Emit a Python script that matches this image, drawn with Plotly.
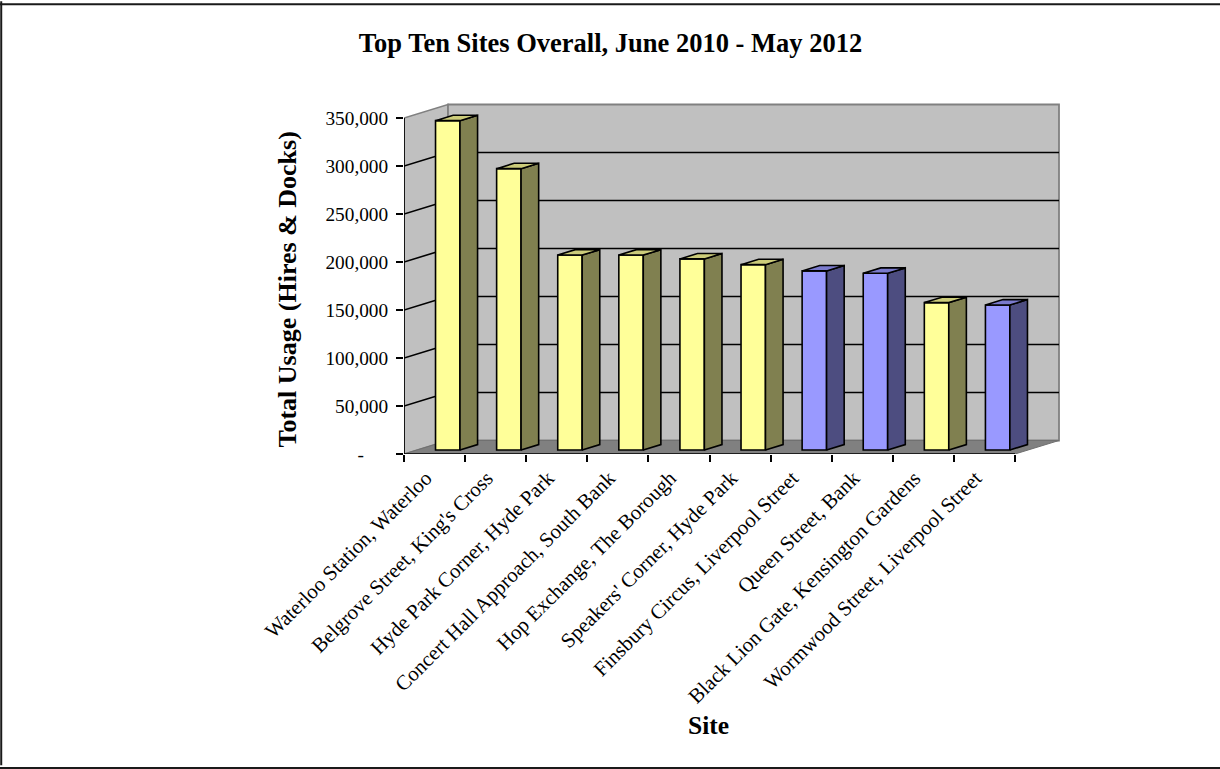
import plotly.graph_objects as go

sites = ["Waterloo Station, Waterloo", "Belgrove Street, King's Cross", "Hyde Park Corner, Hyde Park",
         "Concert Hall Approach, South Bank", "Hop Exchange, The Borough", "Speakers' Corner, Hyde Park",
         "Finsbury Circus, Liverpool Street", "Queen Street, Bank", "Black Lion Gate, Kensington Gardens",
         "Wormwood Street, Liverpool Street"]
usage = [343000, 293000, 203000, 203000, 199000, 193000, 186500, 184000, 153500, 151000]
front_colors = ["#FFFF99"] * 6 + ["#9999FF"] * 2 + ["#FFFF99", "#9999FF"]
side_colors = ["#808050"] * 6 + ["#4D4D80"] * 2 + ["#808050", "#4D4D80"]
top_colors = ["#CCCC7A"] * 6 + ["#7A7ACC"] * 2 + ["#CCCC7A", "#7A7ACC"]
y_ticks = [0, 50000, 100000, 150000, 200000, 250000, 300000, 350000]
y_labels = ["-\u00a0\u00a0\u00a0\u00a0\u00a0", "50,000", "100,000", "150,000", "200,000", "250,000", "300,000", "350,000"]

W, H = 1220, 769
X0, Y0 = 404, 454          # front-left corner of the floor, pixels
SLOT_PX = 61.1             # width of one category slot
UNIT_PX = 48 / 50000       # pixels per unit of usage
DX = 44 / SLOT_PX          # oblique depth in slots
DY = 13.5 / UNIT_PX        # oblique depth in usage units
BAR_W = 0.4
PAD = 4                    # room past the walls so their edge lines stay whole
N = len(sites)
YMAX = y_ticks[-1]
FONT = "Liberation Serif"
EDGE = 1.6                 # outline width of columns and gridlines
LABEL_SHIFT = 0.145        # rotated category labels end slightly left of the slot centre

x_end = N + DX + PAD / SLOT_PX
y_end = YMAX + DY + PAD / UNIT_PX
x_dom = [X0 / W, (X0 + x_end * SLOT_PX) / W]
y_dom = [1 - Y0 / H, 1 - (Y0 - y_end * UNIT_PX) / H]


def poly(points, fill, line, width=1):
    path = "M" + " L".join(f"{x},{y}" for x, y in points) + " Z"
    return dict(type="path", path=path, xref="x", yref="y", layer="below",
                fillcolor=fill, line=dict(color=line, width=width))


def seg(x0, y0, x1, y1, color="#000000", width=EDGE):
    return dict(type="line", xref="x", yref="y", layer="below", x0=x0, y0=y0, x1=x1, y1=y1,
                line=dict(color=color, width=width))


shapes = [
    poly([(0, 0), (DX, DY), (DX, YMAX + DY), (0, YMAX)], "#C0C0C0", "#808080", 1.5),
    poly([(DX, DY), (N + DX, DY), (N + DX, YMAX + DY), (DX, YMAX + DY)], "#C0C0C0", "#808080", 1.8),
    poly([(0, 0), (N, 0), (N + DX, DY), (DX, DY)], "#808080", "#707070"),
]
for v in y_ticks[1:-1]:
    shapes.append(seg(0, v, DX, v + DY))
    shapes.append(seg(DX, v + DY, N + DX, v + DY))

fig = go.Figure()

# Front faces of the columns stand part-way into the floor depth
fig.add_trace(go.Bar(
    x=[i + 0.5 + 0.3 * DX for i in range(N)], y=usage, base=[0.3 * DY] * N, width=BAR_W,
    marker=dict(color=front_colors, line=dict(color="#000000", width=EDGE)),
    hovertext=sites, showlegend=False,
))

# Side and top faces share the column values
for i, v in enumerate(usage):
    left = i + 0.5 + 0.3 * DX - BAR_W / 2
    right = left + BAR_W
    near, far = 0.3 * DY, 0.7 * DY
    shift = 0.4 * DX
    fig.add_trace(go.Scatter(
        x=[right, right + shift, right + shift, right, right],
        y=[near, far, v + far, v + near, near],
        mode="lines", fill="toself", fillcolor=side_colors[i],
        line=dict(color="#000000", width=EDGE), showlegend=False, hoverinfo="skip", cliponaxis=False,
    ))
    fig.add_trace(go.Scatter(
        x=[left, right, right + shift, left + shift, left],
        y=[v + near, v + near, v + far, v + far, v + near],
        mode="lines", fill="toself", fillcolor=top_colors[i],
        line=dict(color="#000000", width=EDGE), showlegend=False, hoverinfo="skip", cliponaxis=False,
    ))

# Front edges of the value and category axes
fig.add_trace(go.Scatter(x=[0, 0], y=[0, YMAX], mode="lines", line=dict(color="#000000", width=1.7),
                         showlegend=False, hoverinfo="skip", cliponaxis=False))
fig.add_trace(go.Scatter(x=[0, N], y=[0, 0], mode="lines", line=dict(color="#000000", width=1.7),
                         showlegend=False, hoverinfo="skip", cliponaxis=False))

# Outer frame of the chart area: left, top and bottom edges
for x0, y0, x1, y1 in [(0.001, 0.005, 0.001, 0.9985), (0, 0.9945, 1, 0.9945), (0, 0.0012, 1, 0.0012)]:
    shapes.append(dict(type="line", xref="paper", yref="paper", x0=x0, y0=y0, x1=x1, y1=y1,
                       line=dict(color="#1a1a1a", width=2)))

fig.update_layout(
    template="none",
    width=W, height=H, margin=dict(l=0, r=0, t=0, b=0, pad=0), autosize=False,
    paper_bgcolor="#FFFFFF", plot_bgcolor="rgba(0,0,0,0)", showlegend=False,
    font=dict(family=FONT, size=19, color="#000000"), shapes=shapes,
    title=dict(text="<b>Top Ten Sites Overall, June 2010 - May 2012</b>", x=610.5 / W, xanchor="center",
               y=1 - 43 / H, yanchor="middle", font=dict(family=FONT, size=26.5)),
    xaxis=dict(domain=x_dom, range=[0, x_end], showgrid=False, zeroline=False, showline=False,
               automargin=False, tickmode="array", tickvals=[i + 0.5 - LABEL_SHIFT for i in range(N)],
               ticktext=sites, tickangle=-45, ticks="", ticklabelstandoff=7,
               tickfont=dict(family=FONT, size=20.8)),
    xaxis2=dict(domain=x_dom, range=[0, x_end], overlaying="x", anchor="y", side="bottom",
                automargin=False, showgrid=False, zeroline=False, showline=False, tickmode="array",
                tickvals=list(range(N + 1)), showticklabels=False, ticks="outside", ticklen=7,
                tickwidth=1.5, tickcolor="#000000"),
    yaxis=dict(domain=y_dom, range=[0, y_end], showgrid=False, zeroline=False, showline=False,
               automargin=False, tickmode="array", tickvals=y_ticks, ticktext=y_labels, ticks="outside",
               ticklen=7, tickwidth=1.5, tickcolor="#000000", ticklabelstandoff=4,
               tickfont=dict(family=FONT, size=19.3)),
    annotations=[
        dict(text="<b>Total Usage (Hires &amp; Docks)</b>", xref="paper", yref="paper", x=287 / W,
             y=1 - 289.5 / H, textangle=-90, showarrow=False, xanchor="center", yanchor="middle",
             font=dict(family=FONT, size=26)),
        dict(text="<b>Site</b>", xref="paper", yref="paper", x=708.5 / W, y=1 - 725 / H,
             showarrow=False, xanchor="center", yanchor="middle", font=dict(family=FONT, size=25.5)),
    ],
)

# Carries the category tick marks on the overlaying axis
fig.add_trace(go.Scatter(x=[0], y=[0], xaxis="x2", mode="markers", marker=dict(opacity=0),
                         showlegend=False, hoverinfo="skip"))

fig.write_html("out.html")
